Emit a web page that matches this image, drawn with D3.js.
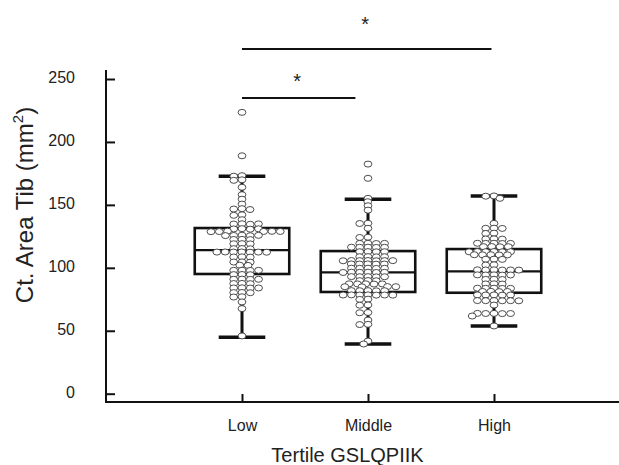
<!DOCTYPE html>
<html>
<head>
<meta charset="utf-8">
<script src="https://cdn.jsdelivr.net/npm/d3@7/dist/d3.min.js"></script>
<style>
  html, body { margin: 0; padding: 0; background: #fff; }
  svg { display: block; font-family: "Liberation Sans", Arial, sans-serif; }
</style>
</head>
<body>
<svg id="chart" width="619" height="465"></svg>
<script>
// ---------- data ----------
const categories = ["Low", "Middle", "High"];
const yTicks = [0, 50, 100, 150, 200, 250];

const lowValues = [223.5, 189.0, 173.2, 172.8, 169.9, 169.5, 164.0, 158.1, 154.5, 150.6,
  147.0, 146.7, 146.3, 142.1, 141.7, 138.2,
  135.0, 134.8, 134.6, 134.9, 131.1, 130.9, 130.7, 131.0,
  129.1, 128.9, 128.8, 129.0, 128.7, 128.9,
  125.9, 125.7, 125.5, 125.8, 125.6,
  122.6, 122.5, 122.4, 119.2, 119.1, 119.0, 115.3, 115.2, 115.1,
  112.6, 112.5, 112.4, 112.5, 112.6, 112.4, 112.5,
  108.7, 108.6, 108.5, 104.7, 104.6, 104.5, 102.1, 101.9,
  98.1, 98.0, 97.9, 98.0, 94.7, 94.6, 94.5,
  91.0, 90.9, 90.8, 90.9, 87.6, 87.5, 87.4,
  84.1, 84.0, 83.9, 84.0, 80.4, 80.3, 80.2, 77.0, 76.8, 72.9, 67.6, 45.9];

const middleValues = [182.4, 171.1, 155.2, 152.5, 149.3, 145.8, 135.4, 135.2, 131.4, 124.3, 124.1,
  119.5, 119.4, 119.3, 119.4,
  116.4, 116.3, 116.2, 116.3, 116.4,
  112.9, 112.8, 112.7, 112.8,
  108.9, 108.8, 108.7, 108.8,
  105.8, 105.7, 105.6, 105.7, 105.8, 105.6, 105.7,
  103.1, 103.0, 102.9, 103.0, 103.1,
  99.7, 99.6, 99.5, 99.6, 99.7,
  96.5, 96.4, 96.3, 96.4, 96.5, 96.3,
  93.0, 92.9, 92.8, 92.9, 93.0,
  89.9, 89.8, 89.7,
  87.3, 87.2, 87.1, 87.2, 87.3,
  85.1, 85.0, 84.9, 85.0,
  81.9, 81.8, 81.7, 81.8, 81.9,
  78.5, 78.4, 78.3, 78.4, 78.5, 78.3, 78.4,
  75.1, 74.9, 70.5, 70.3, 64.5, 64.3, 58.5, 55.1, 54.9, 41.8, 39.5];

const highValues = [157.1, 156.9, 155.2, 135.3, 131.5, 131.4, 131.3, 127.5, 127.3,
  123.0, 122.9, 122.8,
  119.5, 119.4, 119.3, 119.4, 119.5,
  116.9, 116.8, 116.7, 116.8,
  112.9, 112.8, 112.7, 112.8, 112.9, 112.7,
  110.4, 110.3, 110.2, 110.3, 110.4,
  106.9, 106.8, 106.7, 102.4, 102.2,
  98.4, 98.3, 98.2, 98.3, 98.4, 98.2,
  94.4, 94.3, 94.2, 94.3, 94.4,
  90.9, 90.8, 90.7, 87.3, 87.2, 87.1,
  83.8, 83.7, 83.6, 83.7, 83.8,
  81.3, 81.2, 81.1, 81.2,
  78.5, 78.4, 78.3, 78.4, 78.5,
  74.0, 73.9, 73.8, 73.9, 74.0, 73.8,
  70.4, 63.8, 63.7, 63.6, 63.7, 63.8, 61.7, 53.8];

const groupValues = [lowValues, middleValues, highValues];

// box statistics
const q1Values = [95.1, 80.8, 80.2];
const medianValues = [114.1, 96.4, 97.2];
const q3Values = [131.6, 113.3, 114.9];
const whiskerLowValues = [44.8, 39.5, 53.8];
const whiskerHighValues = [172.7, 154.4, 157.0];

// significance brackets (from category index, to category index, bracket value, star value)
const bracketFrom = [0, 0];
const bracketTo = [0.9, 1.98];
const bracketLevel = [235.0, 273.8];
const starLevel = [252.4, 297.6];
const starLabels = ["*", "*"];

// ---------- chart ----------
const svg = d3.select("#chart");
const ink = "#111";

const y = d3.scaleLinear().domain([0, 250]).range([393.7, 79]);
const x = d3.scalePoint().domain(categories).range([116, 620]).padding(1);
const step = x.step();
const xi = d3.scaleLinear().domain([0, 1]).range([x(categories[0]), x(categories[1])]);

// y axis
const yAxis = d3.axisLeft(y).tickValues(yTicks).tickSizeInner(-9).tickSizeOuter(0).tickPadding(31);
const gy = svg.append("g").attr("transform", "translate(106,0)").call(yAxis);
gy.select(".domain").remove();
gy.selectAll(".tick line").attr("stroke", ink).attr("stroke-width", 2);
gy.selectAll(".tick text").attr("font-size", 16).attr("fill", "#222")
  .attr("font-family", "'Liberation Sans', Arial, sans-serif").attr("dy", "0.22em");
svg.append("line").attr("x1", 106).attr("x2", 106).attr("y1", 70).attr("y2", 403)
  .attr("stroke", ink).attr("stroke-width", 2);

// x axis
const xAxis = d3.axisBottom(x).tickSizeInner(-8).tickSizeOuter(0).tickPadding(17.5);
const gx = svg.append("g").attr("transform", "translate(0,402)").call(xAxis);
gx.select(".domain").remove();
gx.selectAll(".tick line").attr("stroke", ink).attr("stroke-width", 2);
gx.selectAll(".tick text").attr("font-size", 16).attr("fill", "#222")
  .attr("font-family", "'Liberation Sans', Arial, sans-serif");
svg.append("line").attr("x1", 105).attr("x2", 619).attr("y1", 402).attr("y2", 402)
  .attr("stroke", ink).attr("stroke-width", 2);

// axis titles
svg.append("text").attr("x", 347.5).attr("y", 462).attr("text-anchor", "middle")
  .attr("font-size", 20).attr("fill", "#222").text("Tertile GSLQPIIK");
const yl = svg.append("text").attr("transform", "translate(33,205) rotate(-90)")
  .attr("text-anchor", "middle").attr("font-size", 24).attr("fill", "#222");
yl.append("tspan").text("Ct. Area Tib (mm");
yl.append("tspan").attr("font-size", 15).attr("dy", -10).text("2");
yl.append("tspan").attr("dy", 10).text(")");

// boxes
const boxW = step * 0.75, capW = step * 0.37;
categories.forEach((c, i) => {
  const cx = x(c);
  const g = svg.append("g");
  g.append("line").attr("x1", cx).attr("x2", cx).attr("y1", y(whiskerHighValues[i])).attr("y2", y(q3Values[i]))
    .attr("stroke", ink).attr("stroke-width", 3);
  g.append("line").attr("x1", cx).attr("x2", cx).attr("y1", y(q1Values[i])).attr("y2", y(whiskerLowValues[i]))
    .attr("stroke", ink).attr("stroke-width", 3);
  [whiskerHighValues[i], whiskerLowValues[i]].forEach(v => {
    g.append("line").attr("x1", cx - capW / 2).attr("x2", cx + capW / 2).attr("y1", y(v)).attr("y2", y(v))
      .attr("stroke", ink).attr("stroke-width", 3.5);
  });
  g.append("rect").attr("x", cx - boxW / 2).attr("width", boxW)
    .attr("y", y(q3Values[i])).attr("height", y(q1Values[i]) - y(q3Values[i]))
    .attr("fill", "none").attr("stroke", ink).attr("stroke-width", 2.6);
  g.append("line").attr("x1", cx - boxW / 2).attr("x2", cx + boxW / 2)
    .attr("y1", y(medianValues[i])).attr("y2", y(medianValues[i]))
    .attr("stroke", ink).attr("stroke-width", 2.2);
});

// beeswarm dots
const rx = 3.9, ry = 3.0, crx = 4.15, cry = 1.7;
categories.forEach((c, i) => {
  const cx = x(c);
  const placed = [];
  groupValues[i].forEach(v => {
    const py = y(v);
    const intervals = [];
    placed.forEach(p => {
      const dy = Math.abs(p.y - py) / (2 * cry);
      if (dy < 1) {
        const w = 2 * crx * Math.sqrt(1 - dy * dy);
        intervals.push([p.x - w, p.x + w]);
      }
    });
    const cands = [0];
    intervals.forEach(iv => { cands.push(iv[0], iv[1]); });
    cands.sort((a, b) => Math.abs(a) - Math.abs(b) || a - b);
    let best = 0;
    for (const cnd of cands) {
      if (intervals.every(iv => cnd <= iv[0] + 1e-6 || cnd >= iv[1] - 1e-6)) { best = cnd; break; }
    }
    placed.push({ x: best, y: py });
  });
  svg.append("g").selectAll("ellipse").data(placed).join("ellipse")
    .attr("cx", d => cx + d.x).attr("cy", d => d.y).attr("rx", rx).attr("ry", ry)
    .attr("fill", "#fff").attr("stroke", "#3a3a3a").attr("stroke-width", 0.9);
});

// significance brackets
bracketFrom.forEach((f, k) => {
  svg.append("line").attr("x1", xi(f)).attr("x2", xi(bracketTo[k]))
    .attr("y1", y(bracketLevel[k])).attr("y2", y(bracketLevel[k]))
    .attr("stroke", ink).attr("stroke-width", 2);
  svg.append("text").attr("x", (xi(f) + xi(bracketTo[k])) / 2 - 1.5).attr("y", y(starLevel[k]))
    .attr("dy", "0.6em").attr("text-anchor", "middle").attr("font-size", 20).attr("fill", "#222")
    .text(starLabels[k]);
});
</script>
</body>
</html>
